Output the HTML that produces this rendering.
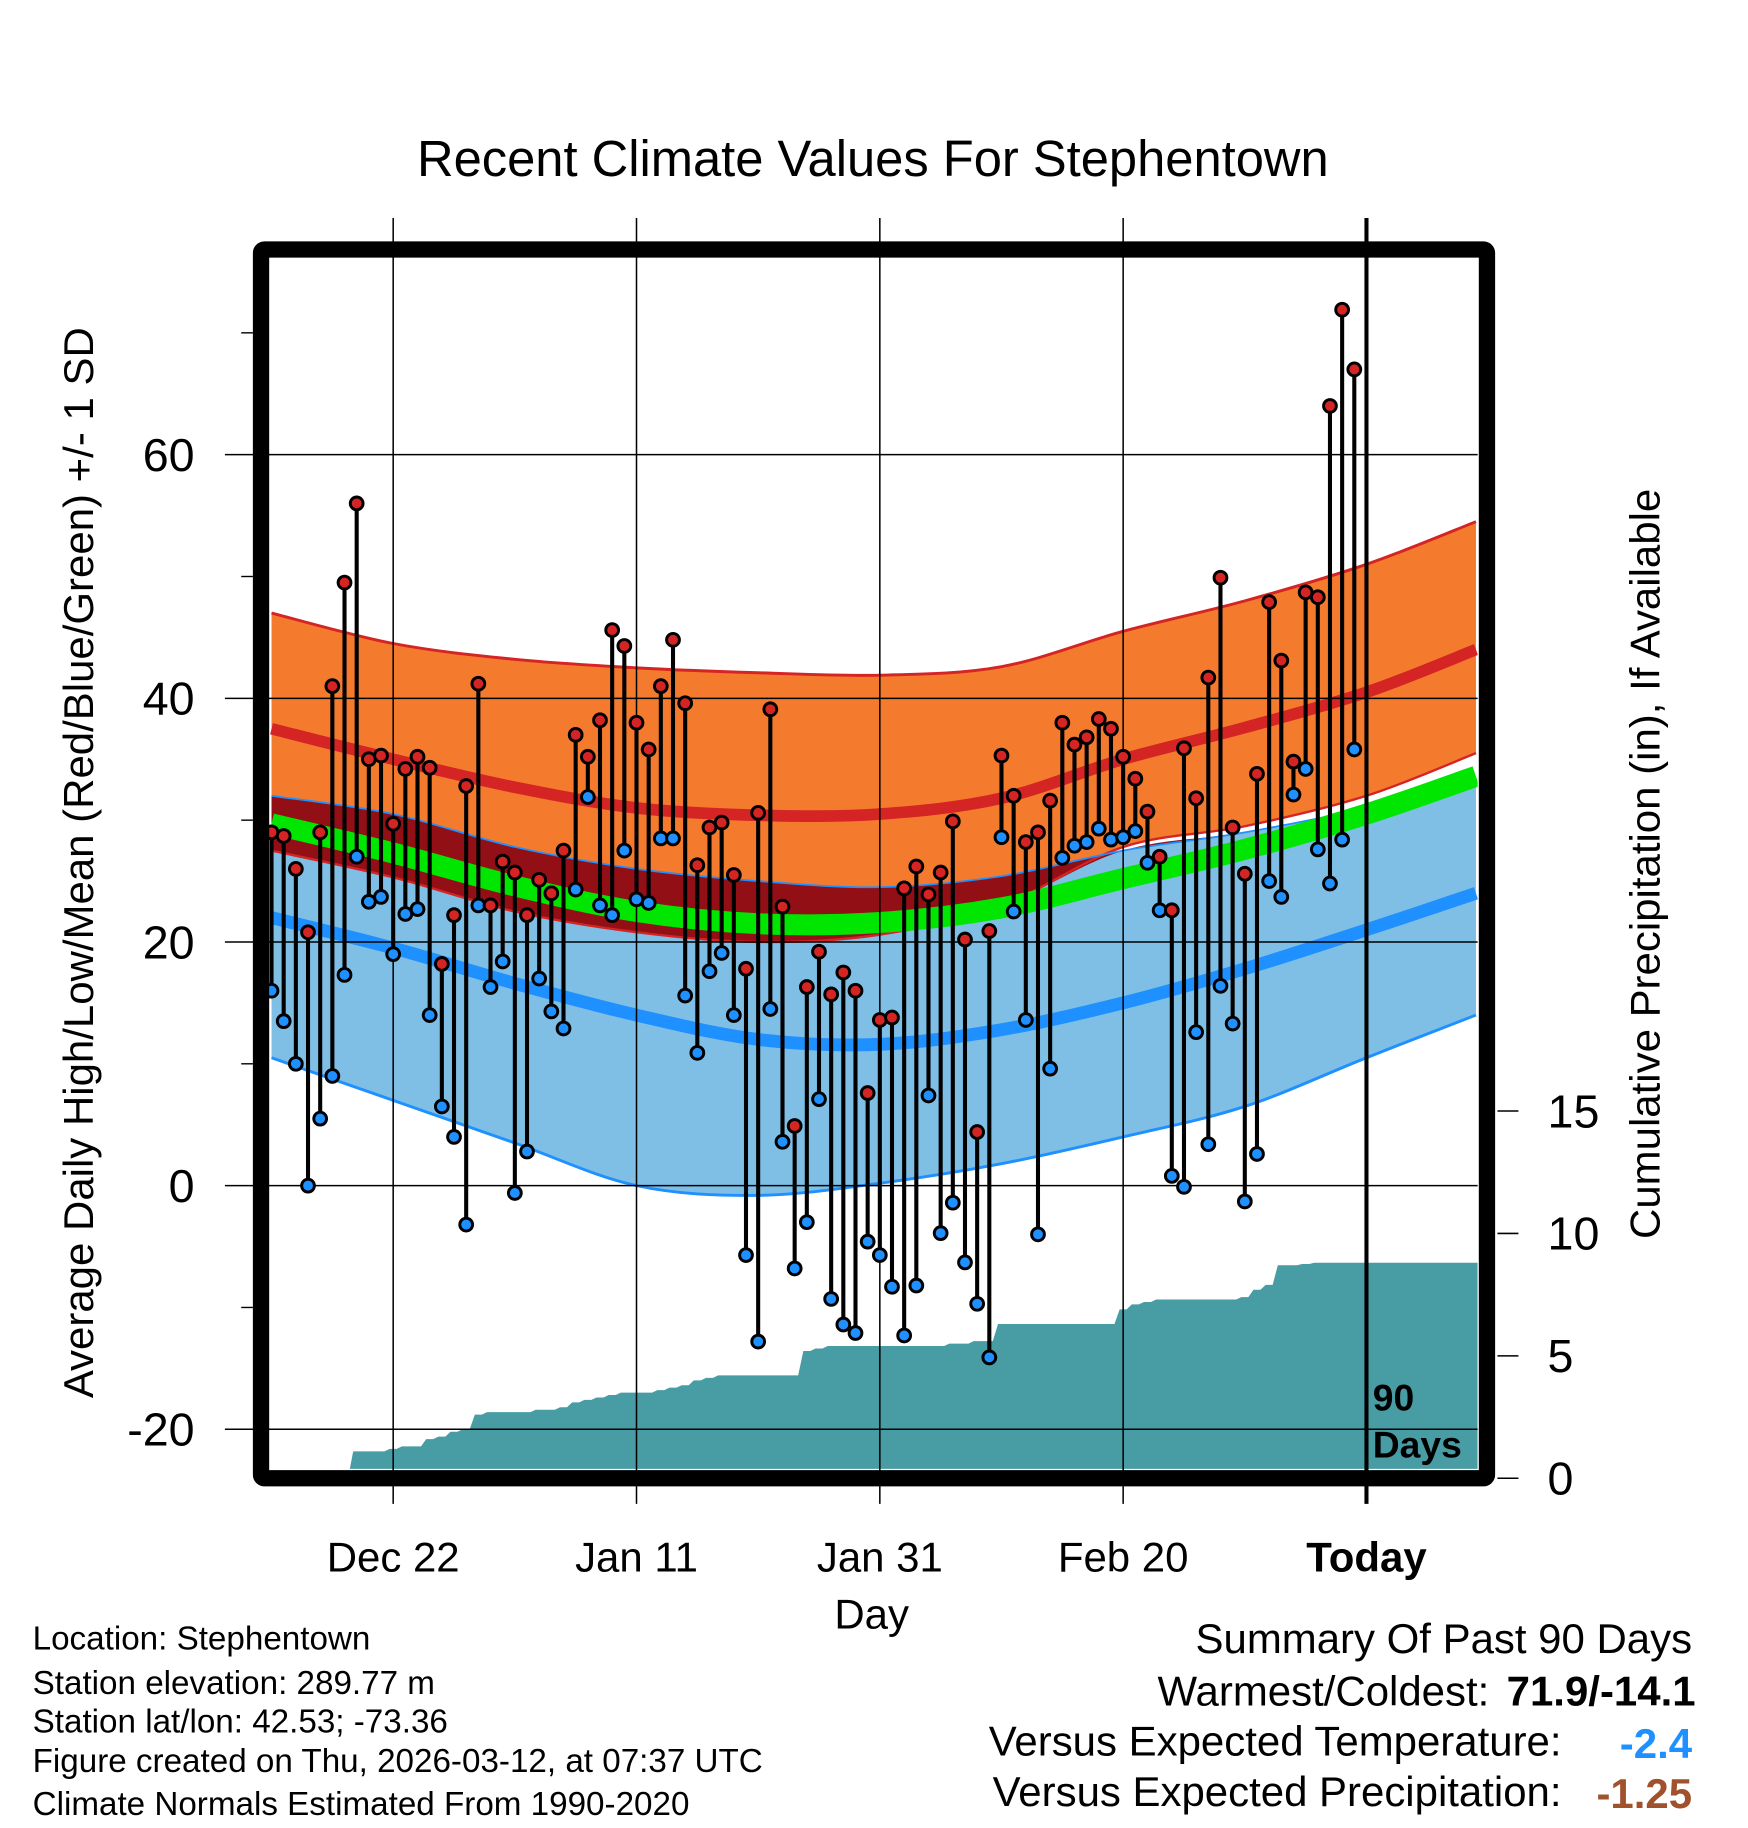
<!DOCTYPE html>
<html><head><meta charset="utf-8"><style>
html,body{margin:0;padding:0;background:#fff;}
svg{display:block;font-family:"Liberation Sans",sans-serif;}
</style></head><body>
<svg id="chart" width="1748" height="1828" viewBox="0 0 1500 1568" preserveAspectRatio="none" xmlns="http://www.w3.org/2000/svg">
<rect width="1500" height="1568" fill="#fff"/>
<text x="749" y="151" font-size="43.5" text-anchor="middle">Recent Climate Values For Stephentown</text>
<g id="plot"></g>
</svg>
<script>
const highs=[29,28.7,26,20.8,29,41,49.5,56,35,35.3,29.7,34.2,35.2,34.3,18.2,22.2,32.8,41.2,23,26.6,25.7,22.2,25.1,24,27.5,37,35.2,38.2,45.6,44.3,38,35.8,41,44.8,39.6,26.3,29.4,29.8,25.5,17.8,30.6,39.1,22.9,4.9,16.3,19.2,15.7,17.5,16,7.6,13.6,13.8,24.4,26.2,23.9,25.7,29.9,20.2,4.4,20.9,35.3,32,28.2,29,31.6,38,36.2,36.8,38.3,37.5,35.2,33.4,30.7,27,22.6,35.9,31.8,41.7,49.9,29.4,25.6,33.8,47.9,43.1,34.8,48.7,48.3,64,71.9,67];
const lows=[16,13.5,10,0,5.5,9,17.3,27,23.3,23.7,19,22.3,22.7,14,6.5,4,-3.2,23,16.3,18.4,-0.6,2.8,17,14.3,12.9,24.3,31.9,23,22.2,27.5,23.5,23.2,28.5,28.5,15.6,10.9,17.6,19.1,14,-5.7,-12.8,14.5,3.6,-6.8,-3,7.1,-9.3,-11.4,-12.1,-4.6,-5.7,-8.3,-12.3,-8.2,7.4,-3.9,-1.4,-6.3,-9.7,-14.1,28.6,22.5,13.6,-4,9.6,26.9,27.9,28.2,29.3,28.4,28.6,29.1,26.5,22.6,0.8,-0.1,12.6,3.4,16.4,13.3,-1.3,2.6,25,23.7,32.1,34.2,27.6,24.8,28.4,35.8];
const precipCum=[0,0,0,0,0,0,0,1.1,1.1,1.1,1.2,1.3,1.3,1.6,1.7,1.9,2.0,2.6,2.7,2.7,2.7,2.7,2.8,2.8,2.9,3.1,3.2,3.3,3.4,3.5,3.5,3.5,3.6,3.7,3.8,4.0,4.1,4.2,4.2,4.2,4.2,4.2,4.2,4.2,5.2,5.3,5.4,5.4,5.4,5.4,5.4,5.4,5.4,5.4,5.4,5.4,5.5,5.5,5.6,5.6,6.3,6.3,6.3,6.3,6.3,6.3,6.3,6.3,6.3,6.3,6.9,7.1,7.2,7.3,7.3,7.3,7.3,7.3,7.3,7.3,7.4,7.7,7.9,8.7,8.7,8.75,8.8,8.8,8.8,8.8];
const knotDays=[0,10,20,30,40,50,60,70,80,90,99];
const normHighUpper=[47,44.5,43.2,42.5,42.1,41.9,42.6,45.5,48,51,54.5];
const normHighMean=[37.5,35,32.7,31,30.4,30.5,31.8,35,37.6,40.5,44];
const normHighLower=[27.5,25.3,22.5,20.8,20,20.6,23,27.8,29.5,32,35.5];
const normLowUpper=[32,30.5,27.8,26,25,24.5,25.4,27.5,29,31,33.3];
const normLowMean=[22,19.5,16.6,14,12,11.6,12.8,15,17.8,21,24];
const normLowLower=[10.5,7,3.5,0,-0.8,0.2,1.8,4,6.5,10.5,14];
const normMean=[29.7,27.3,24.6,22.5,21.5,21.6,22.8,25.2,27.6,30.5,33.6];
const yTicks=[60,40,20,0,-20];
const yMinor=[70,50,30,10,-10];
const pTicks=[0,5,10,15];
const xLabels=["Dec 22","Jan 11","Jan 31","Feb 20","Today"];
const xLabelDays=[10,30,50,70,90];

const NS="http://www.w3.org/2000/svg";
const g=document.getElementById('plot');
const X=d=>233+10.44*d;
const Y=v=>1017-10.45*v;
const P=v=>1268-21*v;
function el(t,a,p){const e=document.createElementNS(NS,t);for(const k in a)e.setAttribute(k,a[k]);(p||g).appendChild(e);return e;}
function pts(vals){return knotDays.map((d,i)=>[X(d),Y(vals[i])]);}
function smooth(p){let s='';for(let i=0;i<p.length;i++){if(i==0){s+='M'+p[0][0]+','+p[0][1];continue;}const p0=p[Math.max(0,i-2)],p1=p[i-1],p2=p[i],p3=p[Math.min(p.length-1,i+1)];const c1=[p1[0]+(p2[0]-p0[0])/6,p1[1]+(p2[1]-p0[1])/6],c2=[p2[0]-(p3[0]-p1[0])/6,p2[1]-(p3[1]-p1[1])/6];s+=`C${c1[0]},${c1[1]} ${c2[0]},${c2[1]} ${p2[0]},${p2[1]}`;}return s;}
function band(up,lo){const a=pts(up),b=pts(lo).reverse();return smooth(a)+'L'+b[0][0]+','+b[0][1]+smooth(b).replace(/^M[^C]*/,'')+'Z';}

const defs=el('defs',{});
const cp=el('clipPath',{id:'clip'},defs);
el('rect',{x:231,y:222,width:1037,height:1038},cp);
const plot=el('g',{'clip-path':'url(#clip)'});

let e;
e=el('path',{d:band(normHighUpper,normHighLower),fill:'#f47a2e'},plot);

e=el('path',{d:band(normLowUpper,normLowLower),fill:'#7fbfe6'},plot);

const ov=normHighLower.map((v,i)=>Math.min(v,normLowUpper[i]));
e=el('path',{d:band(normLowUpper,ov),fill:'#930f16'},plot);

e=el('path',{d:smooth(pts(normHighUpper)),fill:'none',stroke:'#d42424','stroke-width':2.5},plot);

e=el('path',{d:smooth(pts(normHighLower)),fill:'none',stroke:'#d42424','stroke-width':2},plot);

e=el('path',{d:smooth(pts(normLowUpper)),fill:'none',stroke:'#1e90ff','stroke-width':1.5},plot);

e=el('path',{d:smooth(pts(normLowLower)),fill:'none',stroke:'#1e90ff','stroke-width':2.5},plot);

e=el('path',{d:smooth(pts(normMean)),fill:'none',stroke:'#00e600','stroke-width':18},plot);

e=el('path',{d:smooth(pts(normLowMean)),fill:'none',stroke:'#1e90ff','stroke-width':11},plot);

e=el('path',{d:smooth(pts(normHighMean)),fill:'none',stroke:'#d42424','stroke-width':10},plot);


let pd='M231,'+P(0);
precipCum.forEach((v,i)=>{pd+=`L${X(i)-3},${P(v)}L${X(i)+3},${P(v)}`;});
pd+=`L1268,${P(precipCum[precipCum.length-1])}L1268,${P(0)}Z`;
e=el('path',{d:pd,fill:'#489ca4'},plot);


yTicks.forEach(v=>{
  const l=el('line',{x1:193,x2:1268,y1:Y(v),y2:Y(v),stroke:'#000','stroke-width':1.3});
  
  const t=el('text',{x:167,y:Y(v)+14,'font-size':40,'text-anchor':'end'});t.textContent=v;
  
});
yMinor.forEach(v=>{const l=el('line',{x1:207,x2:217,y1:Y(v),y2:Y(v),stroke:'#000','stroke-width':1.2});
  });
xLabelDays.forEach((d,i)=>{
  const l=el('line',{x1:X(d),x2:X(d),y1:187,y2:1290,stroke:'#000','stroke-width':i==4?3.5:1.3});
  
  const t=el('text',{x:X(d),y:1348,'font-size':36,'text-anchor':'middle','font-weight':i==4?'bold':'normal'});t.textContent=xLabels[i];
  
});
pTicks.forEach(v=>{
  const l=el('line',{x1:1285,x2:1303,y1:P(v),y2:P(v),stroke:'#000','stroke-width':1.3});
  
  const t=el('text',{x:1328,y:P(v)+14,'font-size':40});t.textContent=v;
  
});

highs.forEach((h,i)=>{
  const s=el('line',{x1:X(i),x2:X(i),y1:Y(h),y2:Y(lows[i]),stroke:'#000','stroke-width':3.5});
  
});
highs.forEach((h,i)=>{
  const a=el('circle',{cx:X(i),cy:Y(h),r:5.5,fill:'#d42424',stroke:'#000','stroke-width':2.5});
  
  const b=el('circle',{cx:X(i),cy:Y(lows[i]),r:5.5,fill:'#1e90ff',stroke:'#000','stroke-width':2.5});
  
});

e=el('rect',{x:224,y:214,width:1052,height:1054,fill:'none',stroke:'#000','stroke-width':14,rx:3});


function txt(x,y,s,str,attrs,name){const t=el('text',Object.assign({x:x,y:y,'font-size':s},attrs||{}));t.textContent=str;
  return t;}
txt(1178,1210,32,'90',{'font-weight':'bold'},'ninety-days-label');
txt(1178,1250,32,'Days',{'font-weight':'bold'},'ninety-days-label-2');
txt(0,0,36,'Average Daily High/Low/Mean (Red/Blue/Green) +/- 1 SD',{transform:'translate(80,740) rotate(-90)','text-anchor':'middle'},'y-axis-title');
txt(0,0,36,'Cumulative Precipitation (in), If Available',{transform:'translate(1424,741) rotate(-90)','text-anchor':'middle'},'precip-axis-title');
txt(748,1397,36,'Day',{'text-anchor':'middle'},'x-axis-title');
const info=['Location: Stephentown','Station elevation: 289.77 m','Station lat/lon: 42.53; -73.36','Figure created on Thu, 2026-03-12, at 07:37 UTC','Climate Normals Estimated From 1990-2020'];
const infoY=[1415,1453,1486,1520,1557];
info.forEach((s,i)=>txt(28,infoY[i],28.5,s,{},'station-info-line'));
txt(1452,1418,36,'Summary Of Past 90 Days',{'text-anchor':'end'},'summary-title');
txt(1278,1463,36,'Warmest/Coldest:',{'text-anchor':'end'},'warmest-coldest-label');
txt(1455,1463,36,'71.9/-14.1',{'text-anchor':'end','font-weight':'bold'},'warmest-coldest-value');
txt(1340,1506,36,'Versus Expected Temperature:',{'text-anchor':'end'},'temp-anomaly-label');
txt(1452,1508,36,'-2.4',{'text-anchor':'end','font-weight':'bold',fill:'#1e90ff'},'temp-anomaly-value');
txt(1340,1549,36,'Versus Expected Precipitation:',{'text-anchor':'end'},'precip-anomaly-label');
txt(1452,1551,36,'-1.25',{'text-anchor':'end','font-weight':'bold',fill:'#a0522d'},'precip-anomaly-value');
</script>
</body></html>
